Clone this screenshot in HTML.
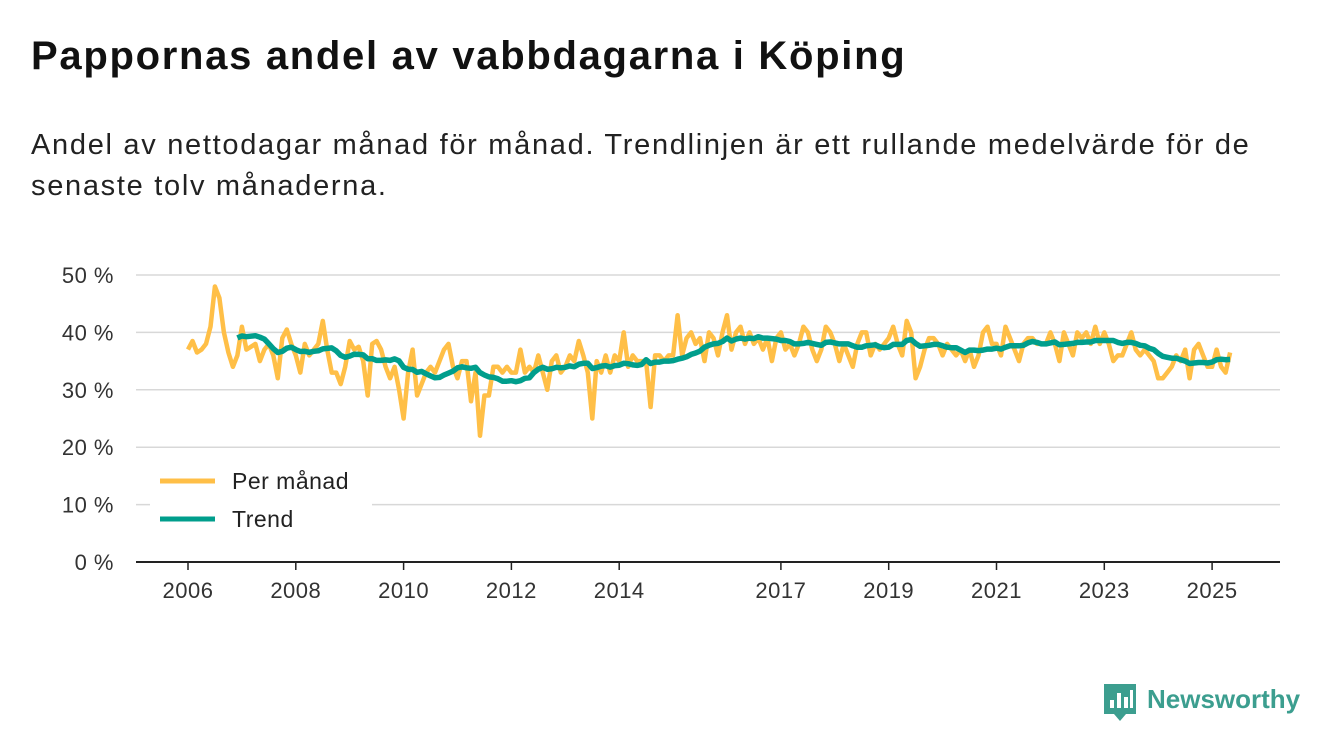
<!DOCTYPE html>
<html><head><meta charset="utf-8"><style>
body{margin:0;width:1340px;height:753px;background:#fff;font-family:"Liberation Sans","DejaVu Sans",sans-serif;color:#111;overflow:hidden;position:relative}
h1{position:absolute;left:31px;top:34px;margin:0;font-size:40px;font-weight:bold;letter-spacing:1.7px}
.sub{position:absolute;left:31px;top:125px;margin:0;font-size:29px;line-height:41px;width:1290px;color:#222;letter-spacing:1.7px;white-space:nowrap}
svg{position:absolute;left:0;top:0}
</style></head><body>
<h1>Pappornas andel av vabbdagarna i Köping</h1>
<p class="sub">Andel av nettodagar månad för månad. Trendlinjen är ett rullande medelvärde för de<br>senaste tolv månaderna.</p>
<svg id="chart" width="1340" height="753"></svg>
<script>
const monthly=[
37,38.5,36.5,37,38,41,48,46,40,36.5,34,36,
41,37,37.5,38,35,37,38,36,32,39,40.5,38,
36,33,38,36,37,38,42,37,33,33,31,34,
38.5,37,37.5,35,29,38,38.5,37,34,32,34,30,
25,33,37,29,31,33,34,33,35,37,38,34,
32,35,35,28,33,22,29,29,34,34,33,34,
33,33,37,33,34,33,36,33,30,35,36,33,
34,36,35,38.5,36,33,25,35,33,36,33,36,
35,40,34,36,35,35,35,27,36,36,35,36,
36,43,36,39,40,38,39,35,40,39,36,40,
43,37,40,41,38,40,38,39,37,39,35,39,
40,37,38,36,38,41,40,37,35,37,41,40,
38,35,38,36,34,38,40,40,36,38,37,38,
39,41,38,36,42,40,32,34,37,39,39,38,
36,38,37,36,37,35,37,34,36,40,41,38,
38,36,41,39,37,35,38,39,39,38,38,38,
40,38,35,40,38,36,40,39,40,38,41,38,
40,38,35,36,36,38,40,37,36,37,36,35,
32,32,33,34,36,35,37,32,37,38,36,34,
34,37,34,33,36.5];
const startYear=2006;
const yTicks=[0,10,20,30,40,50];
const xTicks=[2006,2008,2010,2012,2014,2017,2019,2021,2023,2025];
const svg=document.getElementById('chart');
const NS='http://www.w3.org/2000/svg';
const X=t=>188+(t-2006)*53.9;
const Y=v=>562-v*5.74;
function el(tag,attrs,parent){const e=document.createElementNS(NS,tag);for(const k in attrs)e.setAttribute(k,attrs[k]);(parent||svg).appendChild(e);return e;}
yTicks.forEach(v=>{
  const g=el('line',{x1:136,x2:1280,y1:Y(v),y2:Y(v),stroke:v===0?'#222':'#d8d8d8','stroke-width':v===0?2:1.5});
  
  
  const t=el('text',{x:114,y:Y(v)+8,'text-anchor':'end','font-size':22,fill:'#333','letter-spacing':'0.5','font-family':'Liberation Sans, sans-serif'});
  t.textContent=v+' %';
  
  
});
xTicks.forEach(yr=>{
  const l=el('line',{x1:X(yr),x2:X(yr),y1:562,y2:570,stroke:'#222','stroke-width':1.5});
  
  
  const t=el('text',{x:X(yr),y:598,'text-anchor':'middle','font-size':22,fill:'#333','letter-spacing':'0.5','font-family':'Liberation Sans, sans-serif'});
  t.textContent=yr;
  
  
});
const tx=i=>X(startYear+i/12);
let d=monthly.map((v,i)=>(i?'L':'M')+tx(i).toFixed(1)+','+Y(v).toFixed(1)).join('');
const pm=el('path',{d:d,fill:'none',stroke:'#ffbf47','stroke-width':4.5,'stroke-linejoin':'round'});


let td='';
for(let i=11;i<monthly.length;i++){let s=0;for(let j=i-11;j<=i;j++)s+=monthly[j];td+=(i===11?'M':'L')+tx(i).toFixed(1)+','+Y(s/12).toFixed(1);}
const tr=el('path',{d:td,fill:'none',stroke:'#009e8c','stroke-width':5.5,'stroke-linejoin':'round'});


const lg=el('rect',{x:150,y:460,width:222,height:80,fill:'#fff'});


[['Per månad','#ffbf47',481],['Trend','#009e8c',519]].forEach(([n,c,y])=>{
  const l=el('line',{x1:160,x2:215,y1:y,y2:y,stroke:c,'stroke-width':5});
  
  
  const t=el('text',{x:232,y:y+8,'font-size':23,fill:'#222','letter-spacing':'0.5','font-family':'Liberation Sans, sans-serif'});
  t.textContent=n;
  
  
});
const logo=el('g',{});


el('path',{d:'M1104,684h32v30h-10l-6,7l-6,-7h-10z',fill:'#3c9e8f'},logo);
[[1110,700,4,8],[1117,693,4,15],[1124,697,4,11],[1130,690,3,18]].forEach(r=>el('rect',{x:r[0],y:r[1],width:r[2],height:r[3],fill:'#fff'},logo));
const lt=el('text',{x:1147,y:708,'font-size':26,'font-weight':'bold',fill:'#3c9e8f','font-family':'Liberation Sans, sans-serif'},logo);
lt.textContent='Newsworthy';
</script>
</body></html>
